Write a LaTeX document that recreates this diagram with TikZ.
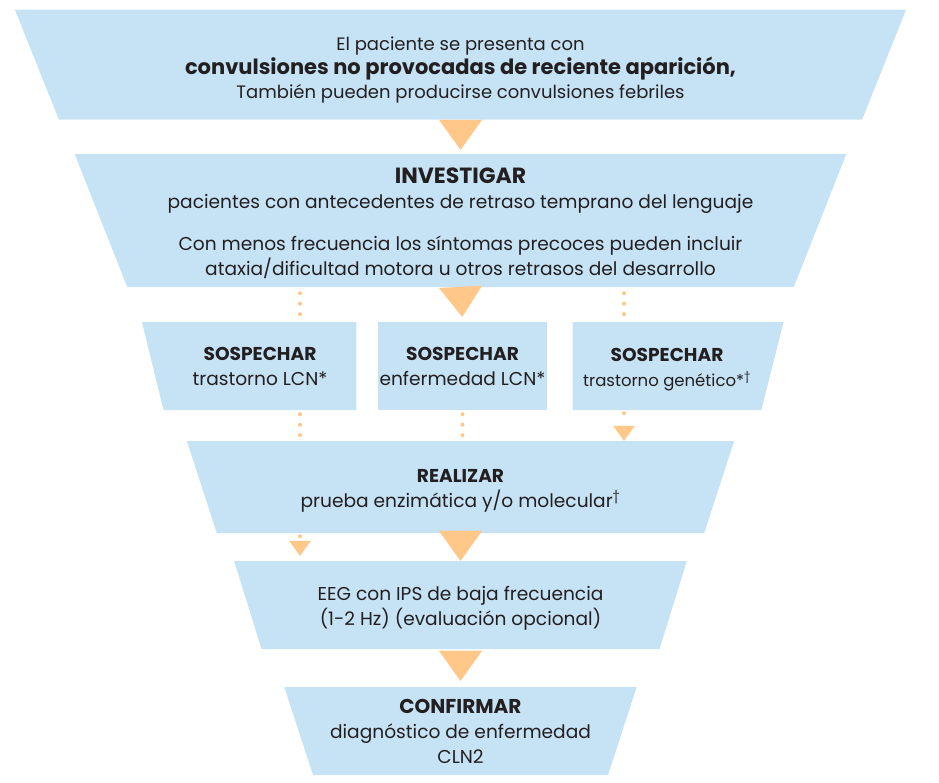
\documentclass[tikz,border=0pt]{standalone}
\usepackage{fontspec}
\setmainfont{Poppins}
\usetikzlibrary{arrows.meta,positioning,shapes.geometric}
\definecolor{boxblue}{HTML}{C6E3F6}
\definecolor{arroworange}{HTML}{FFC788}
\definecolor{textgray}{HTML}{231F20}

\begin{document}
\begin{tikzpicture}[
    x=1pt, y=-1pt,
    box/.style={trapezium, trapezium stretches=true, fill=boxblue, text=textgray, align=center,
        inner sep=0pt, font=\fontsize{18.6}{25}\selectfont},
    funnel/.style={box, trapezium left angle=111.5, trapezium right angle=111.5},
    leftbox/.style={box, trapezium left angle=111.5, trapezium right angle=90},
    rightbox/.style={box, trapezium left angle=90, trapezium right angle=111.5},
    midbox/.style={rectangle, fill=boxblue, text=textgray, align=center, inner sep=0pt,
        font=\fontsize{18.6}{25}\selectfont},
    bigarrow/.style={-{Triangle[width=43pt,length=30pt]}, arroworange, line width=0.01pt},
    dots/.style={arroworange, line width=4pt, line cap=round, dash pattern=on 0pt off 10.5pt},
    dotarrow/.style={dots, dash pattern=on 0pt off 20pt, -{Triangle[width=22pt,length=15pt,line width=0pt]}}
]
    \useasboundingbox (0,0) rectangle (939,782);

    \node[funnel, minimum width=893pt, minimum height=110pt, font=\fontsize{18}{24}\selectfont] (present) at (460.5,64.5)
        {\rule{0pt}{24pt}El paciente se presenta con\\
         {\fontsize{21}{24}\selectfont\bfseries convulsiones no provocadas de reciente aparición,}\\
         También pueden producirse convulsiones febriles};
    \node[funnel, minimum width=777pt, minimum height=133pt] (investigate) at (460.5,220.5)
        {\rule{0pt}{22pt}{\fontsize{22}{25}\selectfont\bfseries INVESTIGAR}\\
         pacientes con antecedentes de retraso temprano del lenguaje\\[17pt]
         Con menos frecuencia los síntomas precoces pueden incluir\\
         ataxia/dificultad motora u otros retrasos del desarrollo};

    \node[leftbox, minimum width=215pt, minimum height=88pt] (suspectLCN) at (260,366)
        {\textbf{SOSPECHAR}\\trastorno LCN*};
    \node[midbox, minimum width=169pt, minimum height=88pt] (suspectDisease) at (462.5,366)
        {\textbf{SOSPECHAR}\\enfermedad LCN*};
    \node[rightbox, minimum width=211pt, minimum height=88pt] (suspectGene) at (667,366)
        {\rule{0pt}{21pt}\textbf{SOSPECHAR}\\{\fontsize{16.5}{25}\selectfont trastorno genético*\textsuperscript{†}}};

    \node[funnel, minimum width=549pt, minimum height=92pt] (realize) at (460.5,487)
        {\rule{0pt}{20pt}\textbf{REALIZAR}\\prueba enzimática y/o molecular\textsuperscript{†}};
    \node[funnel, minimum width=454pt, minimum height=88pt] (eeg) at (460.5,605)
        {\rule{0pt}{20pt}EEG con IPS de baja frecuencia\\(1-2 Hz) (evaluación opcional)};
    \node[funnel, minimum width=353pt, minimum height=88pt] (confirm) at (460.5,731)
        {{\fontsize{20}{25}\selectfont\bfseries CONFIRMAR}\\diagnóstico de enfermedad\\CLN2};

    % main path
    \draw[bigarrow, shorten >=4pt] (present.south) -- (investigate.north);
    \draw[bigarrow, shorten >=5pt] (investigate.south) -- (suspectDisease.north);
    \draw[bigarrow] (realize.south) -- (eeg.north);
    \draw[bigarrow, shorten >=6pt] (eeg.south) -- (confirm.north);

    % dotted side paths
    \draw[dots, shorten <=6pt, shorten >=7.5pt] (300,0 |- investigate.south) -- (300,0 |- suspectLCN.north);
    \draw[dots, shorten <=6pt, shorten >=7.5pt] (624,0 |- investigate.south) -- (624,0 |- suspectGene.north);
    \draw[dots, shorten <=4pt, shorten >=5pt] (300,0 |- suspectLCN.south) -- (300,0 |- realize.north);
    \draw[dots, shorten <=4pt, shorten >=5pt] (suspectDisease.south) -- (suspectDisease.south |- realize.north);
    \draw[dotarrow, shorten <=3pt] (624,0 |- suspectGene.south) -- (624,0 |- realize.north);
    \draw[dotarrow, shorten <=3pt, shorten >=5pt] (300,0 |- realize.south) -- (300,0 |- eeg.north);
\end{tikzpicture}
\end{document}
